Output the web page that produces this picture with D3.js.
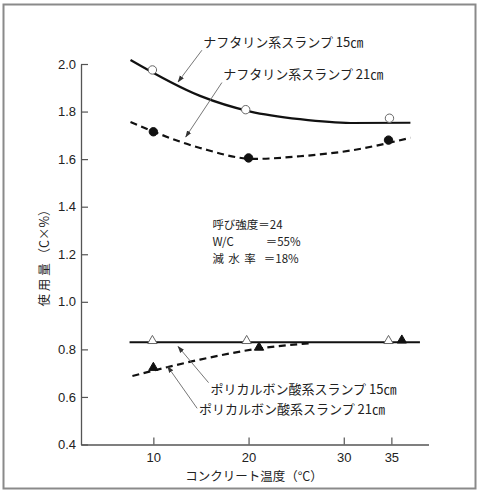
<!DOCTYPE html>
<html><head><meta charset="utf-8">
<script src="https://cdn.jsdelivr.net/npm/d3@7"></script>
<style>
html,body{margin:0;padding:0;background:#fff;}
svg{display:block;}
text{font-family:"Noto Sans CJK JP","Liberation Sans",sans-serif;fill:#222;}
.num{font-family:"Liberation Sans","Noto Sans",sans-serif;}
</style></head>
<body>
<svg id="c" width="480" height="493"></svg>
<script>
// ---- data (temperature °C, usage C×%) ----
const xTicks = [10, 20, 30, 35];
const yTicks = [0.4, 0.6, 0.8, 1.0, 1.2, 1.4, 1.6, 1.8, 2.0];

// Naphthalene 15cm: measured points (open circles) and fitted curve
const naph15Points = [[9.9, 1.975], [19.7, 1.808], [34.8, 1.772]];
const naph15Curve  = [[7.6, 2.017], [14.9, 1.866], [20.2, 1.800], [25.4, 1.768], [30.7, 1.752], [37.0, 1.753]];

// Naphthalene 21cm: measured points (filled circles) and fitted curve
const naph21Points = [[10.0, 1.715], [20.0, 1.605], [34.7, 1.680]];
const naph21Curve  = [[7.6, 1.756], [14.9, 1.647], [20.6, 1.601], [25.4, 1.612], [30.7, 1.636], [37.0, 1.690]];

// Polycarboxylic 15cm: points (open triangles) and line
const poly15Points = [[9.9, 0.836], [19.8, 0.836], [34.7, 0.836]];
const poly15Curve  = [[7.5, 0.830], [38.0, 0.830]];

// Polycarboxylic 21cm: points (filled triangles) and curve
const poly21Points = [[10.0, 0.723], [21.1, 0.808], [36.1, 0.838]];
const poly21Curve  = [[7.8, 0.688], [14.9, 0.757], [21.0, 0.803], [26.5, 0.826]];

// annotation labels: [text, temp, value]
const seriesLabels = [
  ["ナフタリン系スランプ 15㎝", 15.25, 2.072],
  ["ナフタリン系スランプ 21㎝", 17.35, 1.937],
  ["ポリカルボン酸系スランプ 15㎝", 16.0, 0.612],
  ["ポリカルボン酸系スランプ 21㎝", 14.8, 0.528]
];
// leader arrows: [fromTemp, fromVal, toTemp, toVal]
const leaders = [
  [15.1, 2.058, 12.6, 1.925],
  [17.2, 1.922, 13.4, 1.693],
  [15.8, 0.660, 12.6, 0.812],
  [14.6, 0.552, 11.5, 0.728]
];
// condition notes: [left text, letter spacing, right text, temp of right text, temp, value]
const notes = [
  ["呼び強度＝24", 0, "", 0, 16.2, 1.306],
  ["W/C", 0, "＝55%", 21.8, 16.2, 1.234],
  ["減水率", 4.5, "＝18%", 21.6, 16.2, 1.162]
];

const svg = d3.select("#c");
const x = d3.scaleLinear().domain([2.4, 38.9]).range([81, 428.5]);
const y = d3.scaleLinear().domain([0.4, 2.0]).range([444.5, 64]);

// frame
svg.append("rect").attr("x", 3.5).attr("y", 4.5).attr("width", 472).attr("height", 484)
  .attr("fill", "none").attr("stroke", "#8a8a8a").attr("stroke-width", 2);

// axes
const gx = svg.append("g").attr("transform", `translate(0,${y(0.4)})`)
  .call(d3.axisBottom(x).tickValues(xTicks).tickSizeInner(-7).tickSizeOuter(0).tickPadding(8));
const gy = svg.append("g").attr("transform", `translate(${x(2.4)},0)`)
  .call(d3.axisLeft(y).tickValues(yTicks).tickFormat(d3.format(".1f")).tickSizeInner(-7).tickSizeOuter(0).tickPadding(5));
[gx, gy].forEach(g => {
  g.select(".domain").attr("stroke", "#555").attr("stroke-width", 1.3);
  g.selectAll(".tick line").attr("stroke", "#555").attr("stroke-width", 1.2);
  g.selectAll(".tick text").attr("class", "num").attr("font-size", 13).attr("fill", "#222");
});
gx.selectAll(".tick text").attr("dy", "0.71em");

// axis titles
svg.append("text").attr("x", 254).attr("y", 481).attr("text-anchor", "middle")
  .attr("font-size", 12.5).text("コンクリート温度（°C）");
svg.append("text").attr("transform", "translate(49,255) rotate(-90)").attr("text-anchor", "middle")
  .attr("font-size", 12.5).text("使 用 量 （C×%）");

// curves
const line = d3.line().x(d => x(d[0])).y(d => y(d[1])).curve(d3.curveMonotoneX);
function drawCurve(data, dashed) {
  svg.append("path").attr("d", line(data)).attr("fill", "none").attr("stroke", "#111")
    .attr("stroke-width", 2.2).attr("stroke-dasharray", dashed ? "7,4.5" : null);
}
drawCurve(naph15Curve, false);
drawCurve(naph21Curve, true);
drawCurve(poly15Curve, false);
drawCurve(poly21Curve, true);

// markers
function circles(data, filled) {
  svg.selectAll(null).data(data).enter().append("circle")
    .attr("cx", d => x(d[0])).attr("cy", d => y(d[1])).attr("r", 4.2)
    .attr("fill", filled ? "#111" : "#fff").attr("stroke", filled ? "#111" : "#666").attr("stroke-width", 1);
}
function triangles(data, filled) {
  const sym = d3.symbol().type(d3.symbolTriangle).size(38);
  svg.selectAll(null).data(data).enter().append("path")
    .attr("d", sym).attr("transform", d => `translate(${x(d[0])},${y(d[1])})`)
    .attr("fill", filled ? "#111" : "#fff").attr("stroke", filled ? "#111" : "#666").attr("stroke-width", 1);
}
circles(naph15Points, false);
circles(naph21Points, true);
triangles(poly15Points, false);
triangles(poly21Points, true);

// leader arrows
svg.append("defs").append("marker").attr("id", "ah").attr("viewBox", "0 0 10 10")
  .attr("refX", 9).attr("refY", 5).attr("markerWidth", 7).attr("markerHeight", 7)
  .attr("orient", "auto").attr("markerUnits", "userSpaceOnUse")
  .append("path").attr("d", "M0,1.5 L10,5 L0,8.5 Z").attr("fill", "#333");
svg.selectAll(null).data(leaders).enter().append("line")
  .attr("x1", d => x(d[0])).attr("y1", d => y(d[1])).attr("x2", d => x(d[2])).attr("y2", d => y(d[3]))
  .attr("stroke", "#666").attr("stroke-width", 0.9).attr("marker-end", "url(#ah)");

// series labels
svg.selectAll(null).data(seriesLabels).enter().append("text")
  .attr("x", d => x(d[1])).attr("y", d => y(d[2])).attr("font-size", 13).text(d => d[0]);

// notes
notes.forEach(n => {
  svg.append("text").attr("x", x(n[4])).attr("y", y(n[5])).attr("font-size", 11.5)
    .attr("letter-spacing", n[1]).text(n[0]);
  if (n[2]) svg.append("text").attr("x", x(n[3])).attr("y", y(n[5])).attr("font-size", 11.5).text(n[2]);
});
</script>
</body></html>
